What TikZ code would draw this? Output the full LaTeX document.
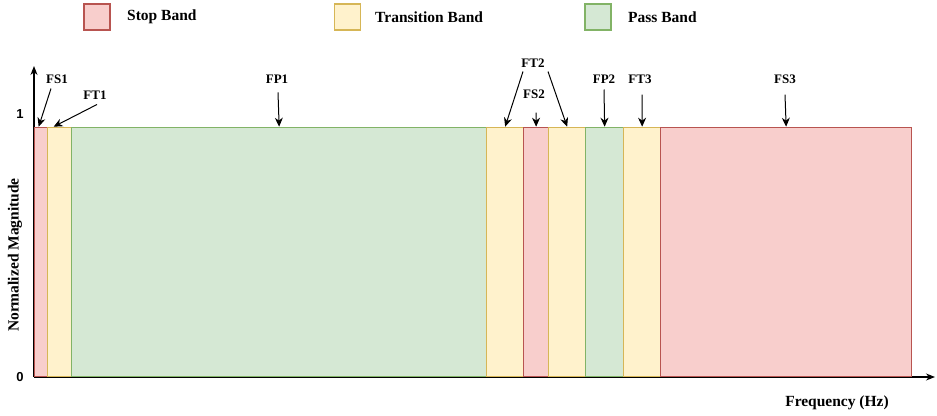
\documentclass[tikz,border=0pt]{standalone}
\usepackage{fontspec}
\setmainfont{Liberation Serif}
\newfontfamily\numfont{Liberation Sans}
\usetikzlibrary{positioning,arrows.meta}

\definecolor{stopfill}{HTML}{F8CECC}
\definecolor{stopline}{HTML}{B85450}
\definecolor{transfill}{HTML}{FFF2CC}
\definecolor{transline}{HTML}{D6B656}
\definecolor{passfill}{HTML}{D5E8D4}
\definecolor{passline}{HTML}{82B366}

\tikzset{
  band/.style={draw,line width=1.3pt,anchor=south west,inner sep=0pt,
    minimum height=249pt},
  stopband/.style={band,fill=stopfill,draw=stopline},
  transband/.style={band,fill=transfill,draw=transline},
  passband/.style={band,fill=passfill,draw=passline},
  keybox/.style={draw,line width=1.3pt,minimum size=26pt,inner sep=0pt},
  keytext/.style={anchor=west,font=\bfseries\fontsize{15.5}{15.5}\selectfont,inner sep=0pt},
  bandlabel/.style={font=\bfseries\fontsize{13}{13}\selectfont,inner sep=1pt},
  pointer/.style={-{Stealth[length=9pt,width=8pt]},line width=1pt},
  axis/.style={-{Stealth[length=9pt,width=7pt]},line width=1.1pt}
}

\begin{document}
\begin{tikzpicture}[x=1pt,y=1pt]
  \useasboundingbox (-34,-38) rectangle (903,377);

  % Legend
  \node [keybox,fill=stopfill,draw=stopline] (kStop) at (63,360) {};
  \node [keytext] (tStop) at (93,360) {Stop Band};
  \node [keybox,fill=transfill,draw=transline] (kTrans) at (313.5,360) {};
  \node [keytext] (tTrans) at (341,360) {Transition Band};
  \node [keybox,fill=passfill,draw=passline] (kPass) at (564,360) {};
  \node [keytext] (tPass) at (594,360) {Pass Band};

  % Axes
  \coordinate (origin) at (0,0);
  \coordinate (ytip) at (0,311);
  \coordinate (xtip) at (901,0);
  \draw [axis] (origin) -- (ytip);
  \draw [axis] (origin) -- (xtip);
  \node [font=\numfont\bfseries\fontsize{13}{13}\selectfont] (one) at (-14,263) {1};
  \node [font=\numfont\bfseries\fontsize{13}{13}\selectfont] (zero) at (-14,0) {0};
  \node [font=\bfseries\fontsize{15.5}{15.5}\selectfont,rotate=90] (ylab) at (-19,122) {Normalized Magnitude};
  \node [font=\bfseries\fontsize{15.5}{15.5}\selectfont] (xlab) at (803,-26) {Frequency (Hz)};

  % Bands
  \node [stopband,minimum width=13pt] (bFS1) at (0,0) {};
  \node [transband,minimum width=24pt] (bFT1) at (13,0) {};
  \node [passband,minimum width=415pt] (bFP1) at (37,0) {};
  \node [transband,minimum width=37pt] (bFT2a) at (452,0) {};
  \node [stopband,minimum width=25pt] (bFS2) at (489,0) {};
  \node [transband,minimum width=37pt] (bFT2b) at (514,0) {};
  \node [passband,minimum width=38pt] (bFP2) at (551,0) {};
  \node [transband,minimum width=37pt] (bFT3) at (589,0) {};
  \node [stopband,minimum width=251pt] (bFS3) at (626,0) {};

  % Band labels
  \node [bandlabel] (lFS1) at (23,298) {FS1};
  \node [bandlabel] (lFT1) at (61,282) {FT1};
  \node [bandlabel] (lFP1) at (243,298) {FP1};
  \node [bandlabel] (lFT2) at (499,314) {FT2};
  \node [bandlabel] (lFS2) at (500,283) {FS2};
  \node [bandlabel] (lFP2) at (570,298) {FP2};
  \node [bandlabel] (lFT3) at (606,298) {FT3};
  \node [bandlabel] (lFS3) at (751,298) {FS3};

  % Pointers
  \draw [pointer] ([xshift=-6pt,yshift=-4pt]lFS1.south) -- ([xshift=-2.5pt]bFS1.north);
  \draw [pointer] ([xshift=2pt,yshift=-4pt]lFT1.south) -- ([xshift=-6pt]bFT1.north);
  \draw [pointer] ([xshift=1pt,yshift=-8pt]lFP1.south) -- (bFP1.north);
  \draw [pointer] ([xshift=-10pt,yshift=-3pt]lFT2.south) -- (bFT2a.north);
  \draw [pointer] ([xshift=15pt,yshift=-3pt]lFT2.south) -- (bFT2b.north);
  \draw [pointer] ([xshift=2pt,yshift=-13pt]lFS2.south) -- (bFS2.north);
  \draw [pointer] ([yshift=-5pt]lFP2.south) -- (bFP2.north);
  \draw [pointer] ([xshift=2pt,yshift=-10pt]lFT3.south) -- (bFT3.north);
  \draw [pointer] ([yshift=-10pt]lFS3.south) -- (bFS3.north);

\end{tikzpicture}
\end{document}
